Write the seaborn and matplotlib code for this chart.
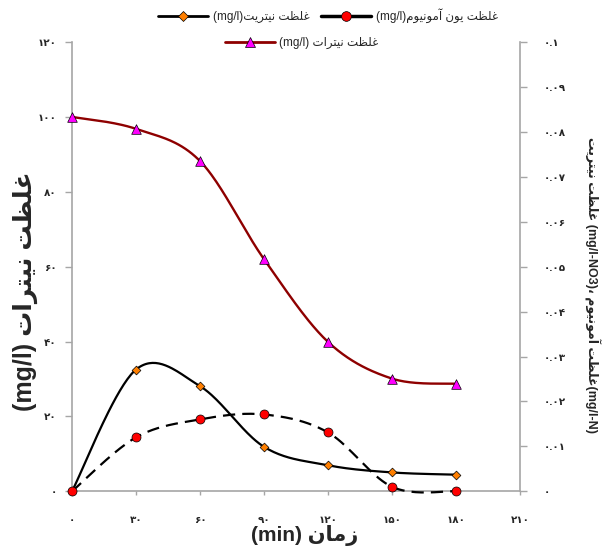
import numpy as np
import matplotlib
matplotlib.use("Agg")
import matplotlib.pyplot as plt
from matplotlib.lines import Line2D
import seaborn as sns

# ---------------- data ----------------
time_min = [0, 30, 60, 90, 120, 150, 180]
nitrate = [100, 96.8, 88.2, 62.0, 39.9, 30.1, 28.7]              # left axis (mg/l)
nitrite = [0, 0.0271, 0.0234, 0.0099, 0.0058, 0.0042, 0.0037]     # right axis
ammonium = [0, 0.0120, 0.0160, 0.0171, 0.0131, 0.0010, 0.0]       # right axis

x_ticks = [0, 30, 60, 90, 120, 150, 180, 210]
left_ticks = [0, 20, 40, 60, 80, 100, 120]
right_ticks = [0, 0.01, 0.02, 0.03, 0.04, 0.05, 0.06, 0.07, 0.08, 0.09, 0.1]

lbl_nitrite = "غلظت نیتریت"
lbl_amm = "غلظت یون آمونیوم"
lbl_nitrate = "غلظت نیترات"
lbl_time = "زمان"
lbl_right_a = "غلظت نیتریت"
lbl_right_b = "غلظت آمونیوم"

# ---------------- minimal Persian shaping ----------------
FORMS = {
    'ا': ('\uFE8D', '\uFE8E', None, None),
    'آ': ('\uFE81', '\uFE82', None, None),
    'ت': ('\uFE95', '\uFE96', '\uFE97', '\uFE98'),
    'ر': ('\uFEAD', '\uFEAE', None, None),
    'ز': ('\uFEAF', '\uFEB0', None, None),
    'ظ': ('\uFEC5', '\uFEC6', '\uFEC7', '\uFEC8'),
    'غ': ('\uFECD', '\uFECE', '\uFECF', '\uFED0'),
    'ل': ('\uFEDD', '\uFEDE', '\uFEDF', '\uFEE0'),
    'م': ('\uFEE1', '\uFEE2', '\uFEE3', '\uFEE4'),
    'ن': ('\uFEE5', '\uFEE6', '\uFEE7', '\uFEE8'),
    'و': ('\uFEED', '\uFEEE', None, None),
    'ی': ('\uFBFC', '\uFBFD', '\uFEF3', '\uFEF4'),
}


def shape(s):
    out = []
    for i, c in enumerate(s):
        if c not in FORMS:
            out.append(c)
            continue
        prev = s[i - 1] if i > 0 else None
        nxt = s[i + 1] if i + 1 < len(s) else None
        jp = prev in FORMS and FORMS[prev][2] is not None
        jn = FORMS[c][2] is not None and nxt in FORMS
        iso, fin, ini, med = FORMS[c]
        if jp and jn:
            out.append(med)
        elif jp:
            out.append(fin)
        elif jn:
            out.append(ini)
        else:
            out.append(iso)
    return ''.join(out)


def rtl(s):
    return shape(s)[::-1]


FA = str.maketrans('0123456789', '۰۱۲۳۴۵۶۷۸۹')


def fa(s):
    return str(s).translate(FA)


def fmt_right(v):
    if v == 0:
        return fa('0')
    if abs(v - 0.1) < 1e-9:
        return fa('0.1')
    return fa(f"{v:.2f}")


# Excel-like smoothed line (Catmull-Rom bezier through the points)
def smooth(xs, ys, n=40):
    p = np.column_stack([xs, ys]).astype(float)
    cx, cy = [], []
    t = np.linspace(0, 1, n)[:, None]
    for i in range(len(p) - 1):
        p0 = p[i - 1] if i > 0 else p[i]
        p1, p2 = p[i], p[i + 1]
        p3 = p[i + 2] if i + 2 < len(p) else p[i + 1]
        c1 = p1 + (p2 - p0) / 6.0
        c2 = p2 - (p3 - p1) / 6.0
        b = ((1 - t) ** 3) * p1 + 3 * ((1 - t) ** 2) * t * c1 + 3 * (1 - t) * t ** 2 * c2 + t ** 3 * p2
        if i > 0:
            b = b[1:]
        cx.extend(b[:, 0])
        cy.extend(b[:, 1])
    return np.array(cx), np.array(cy)


# ---------------- style ----------------
sns.set_style("white")
FAM = ['Liberation Sans', 'DejaVu Sans']
plt.rcParams['font.family'] = FAM

GRAY = '#a6a6a6'
DARKRED = '#8e0000'
MAGENTA = '#ff00ff'
ORANGE = '#ff7f00'
RED = '#ff0000'

W, H = 609, 551
fig = plt.figure(figsize=(W / 100, H / 100), dpi=100)
L, R, T, B = 72, 520, 42, 491.3
ax = fig.add_axes([L / W, 1 - B / H, (R - L) / W, (B - T) / H])
ax2 = ax.twinx()

# nitrate on left axis
sx, sy = smooth(time_min, nitrate)
sns.lineplot(x=sx, y=sy, ax=ax, color=DARKRED, lw=1.7, sort=False, estimator=None, clip_on=False)
sns.scatterplot(x=time_min, y=nitrate, ax=ax, marker='^', s=48, color=MAGENTA,
                edgecolor='black', linewidth=0.5, zorder=5, clip_on=False)

# nitrite & ammonium on right axis
sx, sy = smooth(time_min, nitrite)
sns.lineplot(x=sx, y=sy, ax=ax2, color='black', lw=1.6, sort=False, estimator=None, clip_on=False)
sx, sy = smooth(time_min, ammonium)
sns.lineplot(x=sx, y=sy, ax=ax2, color='black', lw=1.6, sort=False, estimator=None, clip_on=False)
ax2.lines[-1].set_dashes((5.5, 3.2))
sns.scatterplot(x=time_min, y=nitrite, ax=ax2, marker='D', s=20, color=ORANGE,
                edgecolor='black', linewidth=0.5, zorder=5, clip_on=False)
sns.scatterplot(x=time_min, y=ammonium, ax=ax2, marker='o', s=42, color=RED,
                edgecolor='black', linewidth=0.5, zorder=6, clip_on=False)

ax.set_xlim(0, 210)
ax.set_ylim(0, 120)
ax2.set_ylim(0, 0.1)

ax.set_xticks(x_ticks)
ax.set_xticklabels([fa(v) for v in x_ticks])
ax.set_yticks(left_ticks)
ax.set_yticklabels([fa(v) for v in left_ticks])
ax2.set_yticks(right_ticks)
ax2.set_yticklabels([fmt_right(v) for v in right_ticks])

for lab in ax.get_xticklabels() + ax.get_yticklabels() + ax2.get_yticklabels():
    lab.set_fontfamily(FAM)
    lab.set_fontweight('bold')
    lab.set_fontsize(7.5)

for a in (ax, ax2):
    for s in a.spines.values():
        s.set_color(GRAY)
        s.set_linewidth(1.2)
ax.spines['top'].set_visible(False)
ax.spines['right'].set_visible(False)
ax2.spines['top'].set_visible(False)
ax2.spines['left'].set_visible(False)
ax2.spines['bottom'].set_visible(False)

ax.tick_params(axis='y', direction='out', length=5, width=1, color=GRAY, pad=6, left=True)
ax.tick_params(axis='x', direction='out', length=3, width=1, color=GRAY, pad=14, bottom=True)
ax2.tick_params(axis='y', direction='out', length=5, width=1, color=GRAY, pad=12, right=True)
ax.set_xlabel('')
ax.set_ylabel('')
ax2.set_ylabel('')

# axis titles
fig.text(25 / W, 1 - 291 / H, "(mg/l) " + rtl(lbl_nitrate), rotation=90, ha='center', va='center',
         fontsize=18, fontweight='bold', family=FAM)
fig.text(592 / W, 1 - 285 / H,
         rtl(lbl_right_a) + " (mg/l-NO3)، " + rtl(lbl_right_b) + "(mg/l-N)",
         rotation=270, ha='center', va='center', fontsize=9, fontweight='bold', family=FAM)
fig.text(305 / W, 1 - 535 / H, "(min) " + rtl(lbl_time), ha='center', va='center',
         fontsize=15, fontweight='bold', family=FAM)

# legends
h_nitrite = Line2D([], [], color='black', lw=2, marker='D', markersize=5,
                   markerfacecolor=ORANGE, markeredgecolor='black', markeredgewidth=0.5)
h_amm = Line2D([], [], color='black', lw=2.5, marker='o', markersize=7,
               markerfacecolor=RED, markeredgecolor='black', markeredgewidth=0.5)
h_nitrate = Line2D([], [], color=DARKRED, lw=2, marker='^', markersize=7,
                   markerfacecolor=MAGENTA, markeredgecolor='black', markeredgewidth=0.5)

leg_kw = dict(frameon=False, handlelength=4.2, handletextpad=0.4, borderpad=0, borderaxespad=0,
              prop=dict(family=FAM, size=8.5))
leg1 = fig.legend([h_nitrite, h_amm], ["(mg/l)" + rtl(lbl_nitrite), "(mg/l)" + rtl(lbl_amm)],
                  ncol=2, columnspacing=1.0, loc='center', bbox_to_anchor=(328 / W, 1 - 16 / H), **leg_kw)
leg2 = fig.legend([h_nitrate], ["(mg/l) " + rtl(lbl_nitrate)],
                  loc='center', bbox_to_anchor=(302 / W, 1 - 43 / H), **leg_kw)

fig.savefig("out.png", dpi=100)
